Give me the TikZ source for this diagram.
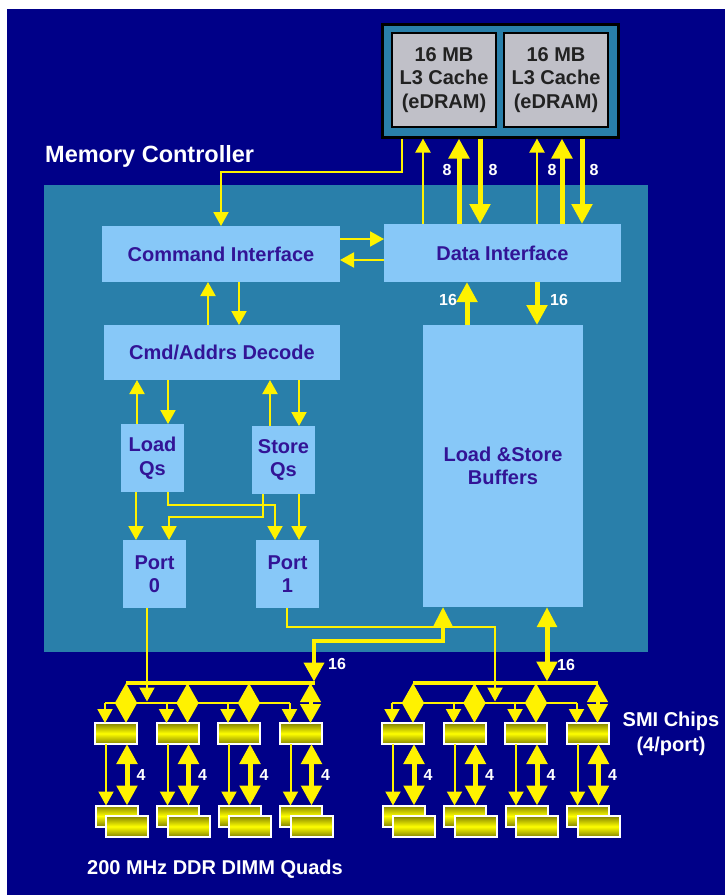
\documentclass[tikz,border=0pt]{standalone}
\usepackage{fontspec}
\setmainfont{Liberation Sans}
\usetikzlibrary{arrows.meta,calc}
\definecolor{navybg}{RGB}{0,0,136}
\definecolor{panel}{RGB}{41,127,170}
\definecolor{lbox}{RGB}{135,200,248}
\definecolor{ink}{RGB}{50,20,150}
\definecolor{cachegray}{RGB}{192,192,200}
\definecolor{cachetxt}{RGB}{34,34,34}
\definecolor{olivec}{RGB}{130,130,0}
\tikzset{
  box/.style={rectangle, fill=lbox, text=ink, font=\bfseries\fontsize{20}{23.5}\selectfont, align=center, inner sep=0pt, outer sep=0pt},
  cachebox/.style={rectangle, fill=cachegray, draw=black, line width=2pt, text=cachetxt, font=\bfseries\fontsize{20}{23.5}\selectfont, align=center, inner sep=0pt, minimum width=104pt, minimum height=94pt},
  chip/.style={rectangle, draw=white, line width=2pt, top color=olivec, bottom color=olivec, middle color=yellow, minimum width=42pt, minimum height=21pt, inner sep=0pt, outer sep=0pt},
  ta/.style={draw=yellow, line width=2pt, -{Triangle[width=15pt,length=14pt]}},
  Ta/.style={draw=yellow, line width=5pt, -{Triangle[width=20pt,length=20pt]}},
  dia/.style={draw=yellow, line width=4pt, {Triangle[width=20pt,length=19pt]}-{Triangle[width=20pt,length=19pt]}},
  dbl/.style={draw=yellow, line width=5pt, {Triangle[width=20pt,length=20pt]}-{Triangle[width=20pt,length=20pt]}},
  bigbus/.style={draw=yellow, line width=4pt},
  smallbus/.style={draw=yellow, line width=2.5pt},
  lab/.style={text=white, font=\bfseries\fontsize{16}{16}\selectfont, inner sep=0pt},
  wtxt/.style={text=white, font=\bfseries\fontsize{20}{24.5}\selectfont, inner sep=0pt, align=center}
}
\begin{document}
\begin{tikzpicture}[x=1pt,y=-1pt]
\useasboundingbox (0,0) rectangle (725,895);
\fill[white] (0,0) rectangle (725,895);
\fill[navybg] (7,9) rectangle (725,895);
\fill[panel] (44,185) rectangle (648,652);

% L3 caches
\node[rectangle, fill=panel, draw=black, line width=3pt, minimum width=236pt, minimum height=113pt, inner sep=0pt] (l3) at (500,80.5) {};
\node[cachebox] (c1) at (444,80) {16 MB\\L3 Cache\\(eDRAM)};
\node[cachebox] (c2) at (556,80) {16 MB\\L3 Cache\\(eDRAM)};

\node[wtxt, anchor=base west] (mc) at (45,162) {\fontsize{23.5}{26}\selectfont Memory Controller};

% controller boxes
\node[box, minimum width=238pt, minimum height=56pt] (ci) at (221,254) {Command Interface};
\node[box, minimum width=237pt, minimum height=58pt] (di) at (502.5,253) {Data Interface};
\node[box, minimum width=236pt, minimum height=55pt] (cad) at (222,352.5) {Cmd/Addrs Decode};
\node[box, minimum width=63pt, minimum height=68pt] (lq) at (152.5,458) {Load\\Qs};
\node[box, minimum width=63pt, minimum height=68pt] (sq) at (283.5,460) {Store\\Qs};
\node[box, minimum width=63pt, minimum height=68pt] (p0) at (154.5,574) {Port\\0};
\node[box, minimum width=63pt, minimum height=68pt] (p1) at (287.5,574) {Port\\1};
\node[box, minimum width=160pt, minimum height=282pt] (lsb) at (503,466) {Load \&Store\\Buffers};

% cache <-> controller
\draw[ta] (402,0 |- l3.south) |- (221,172) -- (221,0 |- ci.north);
\draw[ta] (423,0 |- di.north) -- (423,0 |- l3.south);
\draw[Ta] (459,0 |- di.north) -- (459,0 |- l3.south);
\draw[Ta] (480,0 |- l3.south) -- (480,0 |- di.north);
\draw[ta] (537,0 |- di.north) -- (537,0 |- l3.south);
\draw[Ta] (562,0 |- di.north) -- (562,0 |- l3.south);
\draw[Ta] (582,0 |- l3.south) -- (582,0 |- di.north);
\node[lab] (e1) at (447,170) {8};
\node[lab] (e2) at (493,170) {8};
\node[lab] (e3) at (552,170) {8};
\node[lab] (e4) at (594,170) {8};

% command <-> data
\draw[ta] (ci.east |- 0,239) -- (di.west |- 0,239);
\draw[ta] (di.west |- 0,260) -- (ci.east |- 0,260);
% command <-> decode
\draw[ta] (208,0 |- cad.north) -- (208,0 |- ci.south);
\draw[ta] (239,0 |- ci.south) -- (239,0 |- cad.north);
% decode <-> queues
\draw[ta] (137,0 |- lq.north) -- (137,0 |- cad.south);
\draw[ta] (168,0 |- cad.south) -- (168,0 |- lq.north);
\draw[ta] (270,0 |- sq.north) -- (270,0 |- cad.south);
\draw[ta] (299,0 |- cad.south) -- (299,0 |- sq.north);
% queues -> ports
\draw[ta] (136,0 |- lq.south) -- (136,0 |- p0.north);
\draw[ta] (168,0 |- lq.south) |- (275,505) -- (275,0 |- p1.north);
\draw[ta] (263,0 |- sq.south) |- (169,517) -- (169,0 |- p0.north);
\draw[ta] (299,0 |- sq.south) -- (299,0 |- p1.north);
% data <-> buffers
\draw[Ta] (467,0 |- lsb.north) -- (467,0 |- di.south);
\draw[Ta] (537,0 |- di.south) -- (537,0 |- lsb.north);
\node[lab] (f1) at (448,300) {16};
\node[lab] (f2) at (559,300) {16};

% SMI groups
\foreach \g/\ox in {L/95, R/382} {
  \foreach \i in {0,...,3} {
    \pgfmathsetmacro\lx{\ox+61.5*\i}
    \node[chip] (chip\g\i) at (\lx+21,733.5) {};
    \node[chip] (dimb\g\i) at (\lx+21.5,816) {};
    \node[chip] (dimf\g\i) at (\lx+32,826.5) {};
    \draw[dia] (\lx+31,683) -- (\lx+31,0 |- chip\g\i.north);
    \draw[ta] (\lx+10,703) -- (\lx+10,0 |- chip\g\i.north);
    \draw[ta] (\lx+11,0 |- chip\g\i.south) -- (\lx+11,0 |- dimb\g\i.north);
    \draw[dbl] (\lx+32,0 |- chip\g\i.south) -- (\lx+32,0 |- dimb\g\i.north);
    \node[lab] (four\g\i) at (\lx+46,775) {4};
  }
}
\coordinate (bLa) at (126,683);
\coordinate (bLb) at (315,683);
\coordinate (bRa) at (413,683);
\coordinate (bRb) at (597.5,683);
\draw[bigbus] (bLa) -- (bLb);
\draw[bigbus] (bRa) -- (bRb);
\draw[smallbus] (105,703) -- (289.5,703);
\draw[smallbus] (392,703) -- (576.5,703);

% ports -> SMI
\draw[ta] (147,0 |- p0.south) -- (147,701.5);
\draw[ta] (287,0 |- p1.south) |- (495,627) -- (495,701.5);
% buffers <-> SMI
\draw[draw=yellow, line width=4pt, {Triangle[width=19pt,length=20pt]}-{Triangle[width=20pt,length=19pt]}] (443,0 |- lsb.south) |- (314,641) -- (314,681.5);
\draw[draw=yellow, line width=5pt, {Triangle[width=19pt,length=20pt]}-{Triangle[width=20pt,length=20pt]}] (547,0 |- lsb.south) -- (547,681.5);
\node[lab] (g1) at (337,664) {16};
\node[lab] (g2) at (566,665) {16};

\node[wtxt] (smi) at (671,734) {SMI Chips\\(4/port)};
\node[wtxt] (dimm) at (215,869) {200 MHz DDR DIMM Quads};
\end{tikzpicture}
\end{document}
